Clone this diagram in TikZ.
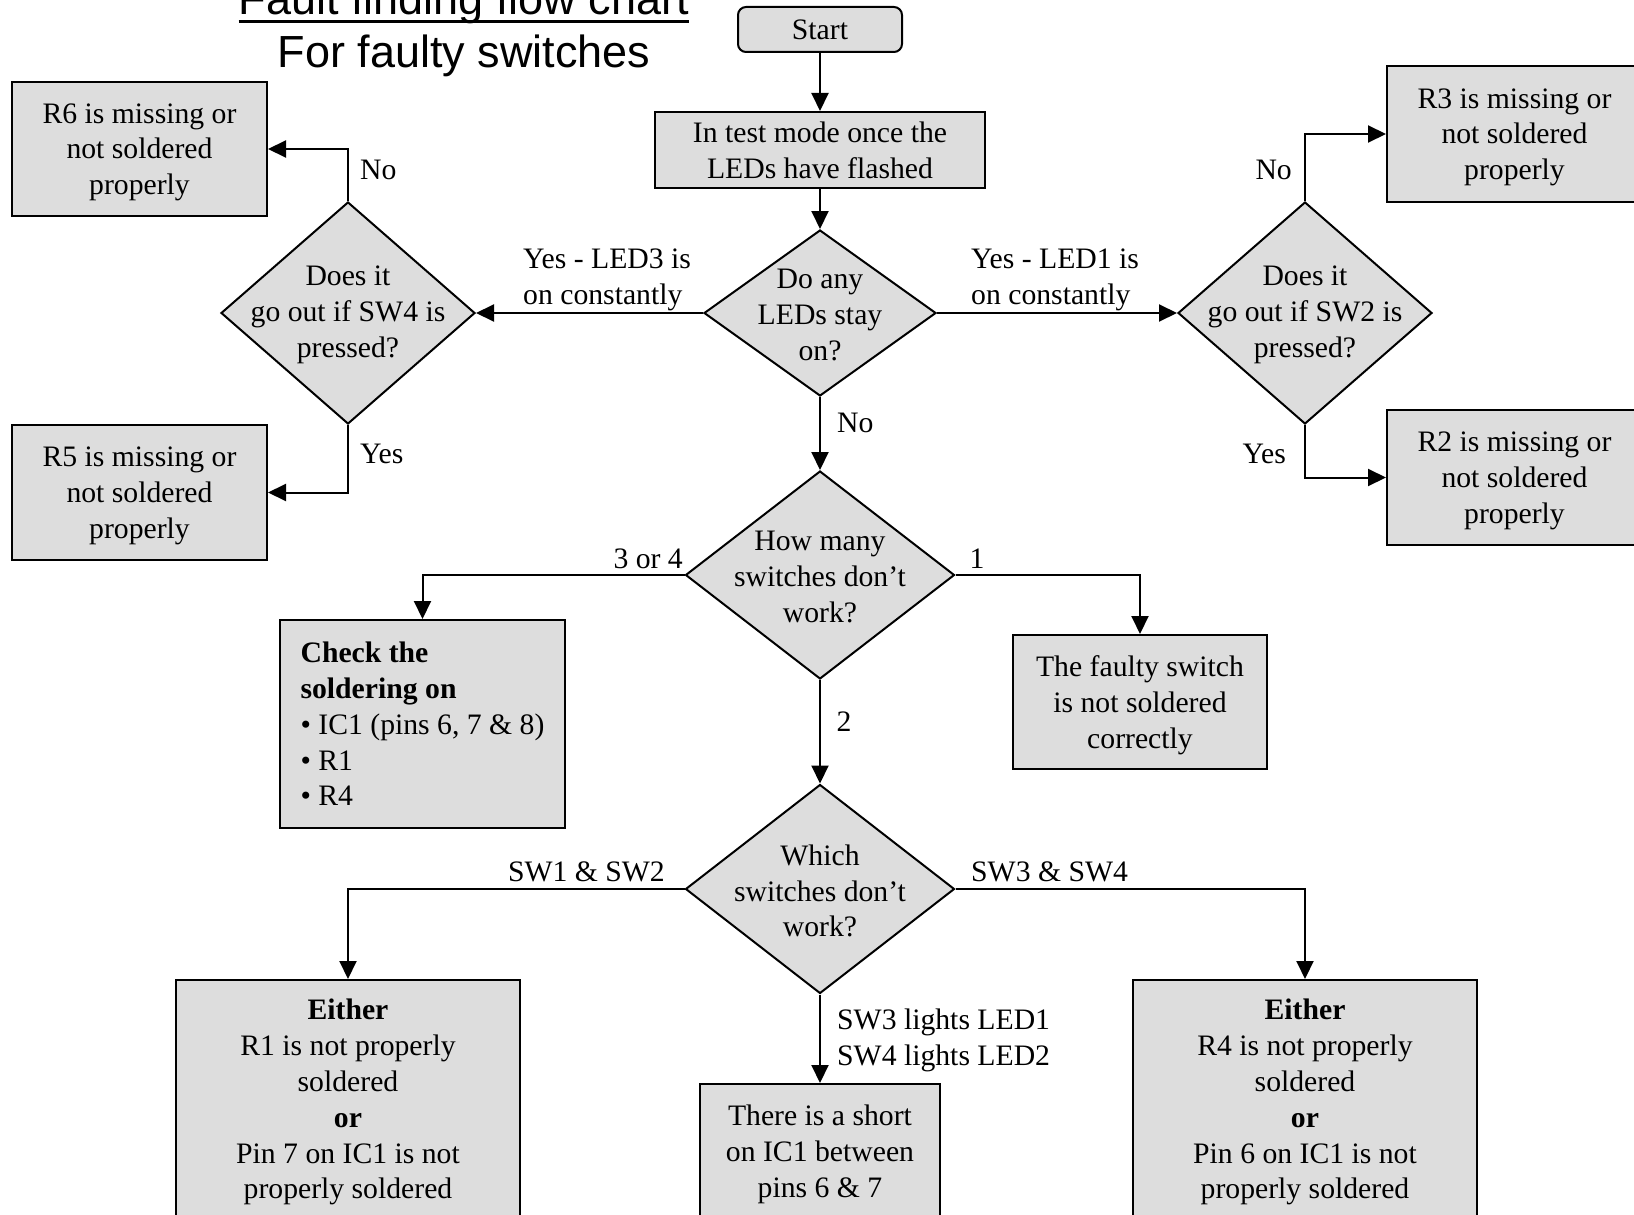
\documentclass[tikz,border=0pt]{standalone}
\usepackage{fontspec}
\setmainfont{Liberation Serif}
\newfontfamily\titlefont{Liberation Sans}
\usetikzlibrary{shapes.geometric,arrows.meta,calc}
\definecolor{boxgray}{RGB}{221,221,221}
\begin{document}
\begin{tikzpicture}[x=1pt,y=-1pt,
  every node/.style={font=\fontsize{29.7}{35.8}\selectfont},
  box/.style={draw, fill=boxgray, line width=2pt, inner sep=0pt, align=center, text depth=0pt},
  dia/.style={diamond, draw, fill=boxgray, line width=2pt, inner sep=0pt},
  lbl/.style={inner sep=0pt},
  arr/.style={line width=2pt, -{Triangle[length=18pt,width=17pt]}},
  titlestyle/.style={inner sep=0pt, anchor=base, font=\titlefont\fontsize{45}{54}\selectfont}
]
\useasboundingbox (0,0) rectangle (1634,1215);
\clip (0,0) rectangle (1634,1215);

% title
\node[titlestyle] (title) at (464,15) {Fault finding flow chart};
\draw[line width=3pt] ([yshift=-7pt]title.base west) -- ([yshift=-7pt]title.base east);
\node[titlestyle] (subtitle) at (464,68) {For faulty switches};

% boxes
\node[box, rounded corners=8pt, minimum width=164pt, minimum height=45pt] (start) at (820,29.5) {Start};
\node[box, minimum width=330pt, minimum height=76pt] (test) at (820,150) {In test mode once the\\LEDs have flashed};
\node[box, minimum width=255pt, minimum height=134pt] (R6) at (139.5,149) {R6 is missing or\\not soldered\\properly};
\node[box, minimum width=255pt, minimum height=135pt] (R5) at (139.5,492.5) {R5 is missing or\\not soldered\\properly};
\node[box, minimum width=255pt, minimum height=136pt] (R3) at (1514.5,134) {R3 is missing or\\not soldered\\properly};
\node[box, minimum width=255pt, minimum height=135pt] (R2) at (1514.5,477.5) {R2 is missing or\\not soldered\\properly};
\node[box, align=left, minimum width=285pt, minimum height=208pt] (check) at (422.5,724) {\textbf{Check the}\\\textbf{soldering on}\\• IC1 (pins 6, 7 \& 8)\\• R1\\• R4};
\node[box, minimum width=254pt, minimum height=134pt] (faulty) at (1140,702) {The faulty switch\\is not soldered\\correctly};
\node[box, minimum width=344pt, minimum height=238pt] (eitherL) at (348,1099) {\textbf{Either}\\R1 is not properly\\soldered\\\textbf{or}\\Pin 7 on IC1 is not\\properly soldered};
\node[box, minimum width=240pt, minimum height=134pt] (short) at (820,1151) {There is a short\\on IC1 between\\pins 6 \& 7};
\node[box, minimum width=344pt, minimum height=238pt] (eitherR) at (1305,1099) {\textbf{Either}\\R4 is not properly\\soldered\\\textbf{or}\\Pin 6 on IC1 is not\\properly soldered};

% diamonds
\node[dia, minimum width=232pt, minimum height=166pt] (d1) at (820,313) {};
\node[lbl, align=center] (d1t) at (820,315) {Do any\\LEDs stay\\on?};
\node[dia, minimum width=254pt, minimum height=222pt] (dL) at (348,313) {};
\node[lbl, align=center] (dLt) at (348,315) {Does it\\go out if SW4 is\\pressed?};
\node[dia, minimum width=254pt, minimum height=222pt] (dR) at (1305,313) {};
\node[lbl, align=center] (dRt) at (1305,315) {Does it\\go out if SW2 is\\pressed?};
\node[dia, minimum width=269pt, minimum height=208pt] (d2) at (820,575) {};
\node[lbl, align=center] (d2t) at (820,577) {How many\\switches don’t\\work?};
\node[dia, minimum width=269pt, minimum height=209pt] (d3) at (820,889) {};
\node[lbl, align=center] (d3t) at (820,891) {Which\\switches don’t\\work?};

% connectors
\draw[arr] (start) -- (test);
\draw[arr] (test) -- (d1.north);
\draw[arr] (d1.west) -- (dL.east);
\draw[arr] (d1.east) -- (dR.west);
\draw[arr] (dL.north) |- (R6.east);
\draw[arr] (dL.south) |- (R5.east);
\draw[arr] (dR.north) |- (R3.west);
\draw[arr] (dR.south) |- (R2.west);
\draw[arr] (d1.south) -- (d2.north);
\draw[arr] (d2.west) -| (check.north);
\draw[arr] (d2.east) -| (faulty.north);
\draw[arr] (d2.south) -- (d3.north);
\draw[arr] (d3.west) -| (eitherL.north);
\draw[arr] (d3.east) -| (eitherR.north);
\draw[arr] (d3.south) -- (short.north);

% labels
\node[lbl, anchor=west] (noL) at (360,170) {No};
\node[lbl, anchor=west] (yesL) at (360,454) {Yes};
\node[lbl, anchor=east] (noR) at (1292,170) {No};
\node[lbl, anchor=east] (yesR) at (1286,454) {Yes};
\node[lbl, anchor=west, align=left] (y3) at (523,280) {Yes - LED3 is\\on constantly};
\node[lbl, anchor=west, align=left] (y1) at (971,280) {Yes - LED1 is\\on constantly};
\node[lbl, anchor=west] (no1) at (837,423) {No};
\node[lbl, anchor=east] (l34) at (683,559) {3 or 4};
\node[lbl] (l1) at (977,559) {1};
\node[lbl] (l2) at (844,722) {2};
\node[lbl, anchor=east] (lsw12) at (665,872) {SW1 \& SW2};
\node[lbl, anchor=west] (lsw34) at (971,872) {SW3 \& SW4};
\node[lbl, anchor=west, align=left] (lsw) at (837,1040) {SW3 lights LED1\\SW4 lights LED2};
\end{tikzpicture}
\end{document}
